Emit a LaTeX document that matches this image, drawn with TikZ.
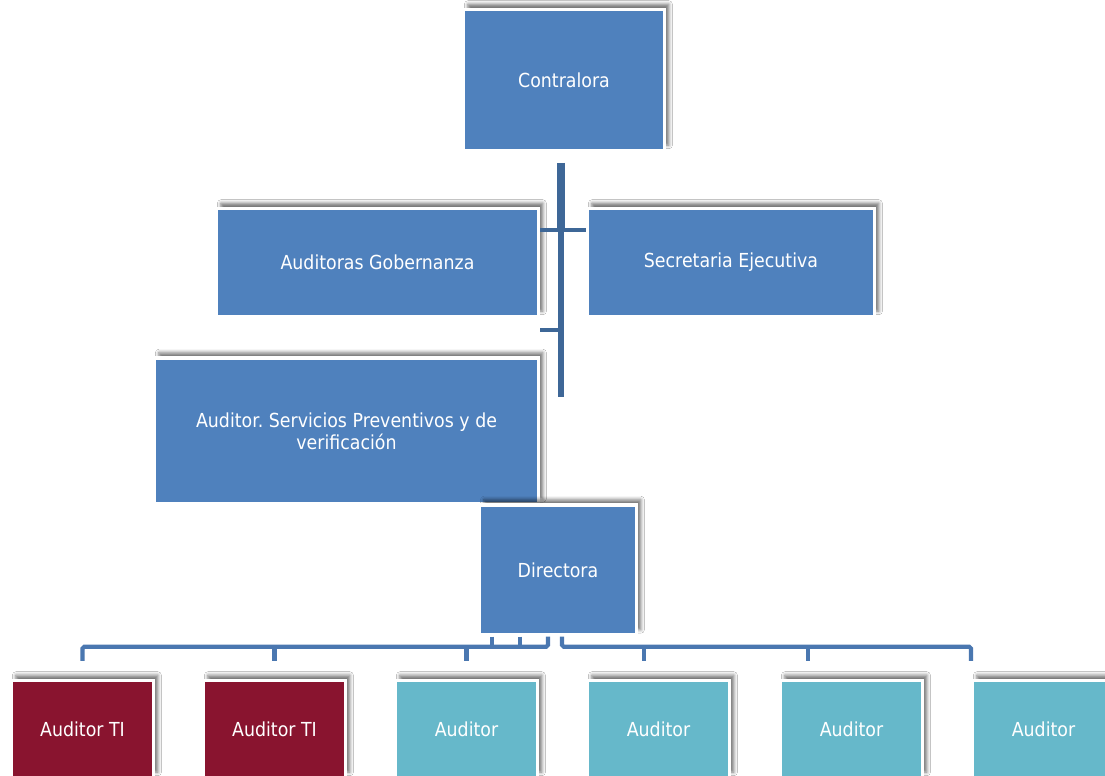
\documentclass[tikz,border=0pt]{standalone}
\usepackage{fontspec}
\setmainfont{DejaVu Sans}[FakeStretch=0.9]
\usepackage{tikz}
\usetikzlibrary{shadows.blur,calc}
\frenchspacing

\definecolor{boxblue}{HTML}{4F81BD}
\definecolor{boxred}{HTML}{89142F}
\definecolor{boxteal}{HTML}{66B8CA}
\definecolor{barblue}{HTML}{3E6797}
\definecolor{linkblue}{HTML}{4A77B0}

\begin{document}
\begin{tikzpicture}[x=0.02cm,y=-0.02cm,
        box/.style={draw=white,line width=2pt,fill=boxblue,text=white,align=center,
            font=\fontsize{11}{12.5}\selectfont,inner sep=0pt,
            blur shadow={shadow xshift=2.5pt,shadow yshift=3pt,shadow blur radius=2pt,shadow opacity=55}},
        link/.style={linkblue,line width=2.3pt,rounded corners=1pt},
        bar/.style={barblue,line width=2.3pt}]
        \clip (0,0) rectangle (1105,776);
        \fill[white] (0,0) rectangle (1105,776);

        \node[box,minimum width=4.02cm,minimum height=2.82cm] (cont) at (564,80) {Contralora};
        \node[box,minimum width=6.44cm,minimum height=2.16cm] (gob) at (377.5,262.5) {Auditoras Gobernanza};
        \node[box,minimum width=5.74cm,minimum height=2.16cm] (sec) at (731,262.5) {Secretaria Ejecutiva};
        \node[box,minimum width=7.68cm,minimum height=2.92cm] (serv) at (346.5,431) {Auditor. Servicios Preventivos y de\\verificación};
        \node[box,minimum width=3.14cm,minimum height=2.6cm] (dir) at (558,570) {Directora};
        \foreach \i/\x/\c/\t in {1/82.5/boxred/Auditor TI,2/274.5/boxred/Auditor TI,3/466.5/boxteal/Auditor,
                4/658.5/boxteal/Auditor,5/851.5/boxteal/Auditor,6/1043.5/boxteal/Auditor}{
            \node[box,fill=\c,minimum width=2.84cm,minimum height=1.94cm] (a\i) at (\x,729) {\t};
        }

        % bar under Contralora
        \coordinate (bartop) at (561,163);
        \coordinate (barmid) at (561,230);
        \coordinate (barbot) at (561,397);
        \draw[bar,line width=4.4pt] (bartop) -- (barmid);
        \draw[bar,line width=2.9pt] (barmid) -- (barbot);
        \draw[bar] (gob.east |- barmid) -- (sec.west |- barmid);
        \draw[bar] (serv.east |- 0,330) -- (barbot |- 0,330);

        % bus under Directora
        \draw[link] ($(a1.north)+(0,-18)$) |- ($(dir.south -| 548,0)+(0,10)$) -- (dir.south -| 548,0);
        \foreach \x in {492,520}
            \draw[link] (dir.south -| \x,0) -- ++(0,10);
        \foreach \i in {2,3}
            \draw[link] ($(a\i.north)+(0,-32)$) -- ++(0,14);
        \draw[link] (dir.south -| 562,0) |- ($(a6.north)+(-72.5,-32)$) -- ($(a6.north)+(-72.5,-18)$);
        \draw[link] ($(a4.north)+(-14.5,-32)$) -- ++(0,14);
        \draw[link] ($(a5.north)+(-43.5,-32)$) -- ++(0,14);
    \end{tikzpicture}
\end{document}
